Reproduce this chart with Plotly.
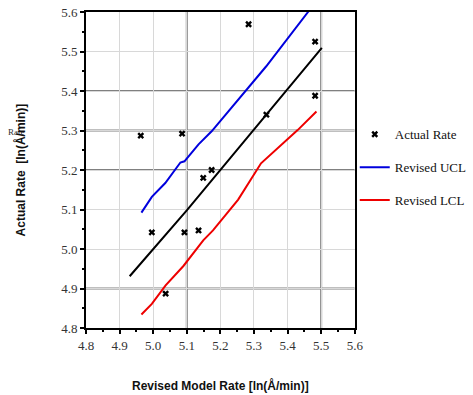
import plotly.graph_objects as go

# Actual Rate scatter (Revised Model Rate vs Actual Rate)
actual_x = [4.963, 4.996, 5.037, 5.086, 5.093, 5.135, 5.149, 5.174, 5.284, 5.337, 5.482, 5.482]
actual_y = [5.287, 5.042, 4.887, 5.292, 5.042, 5.047, 5.180, 5.200, 5.569, 5.340, 5.525, 5.388]

# Center (fit) line
center_x = [4.930, 5.100, 5.502]
center_y = [4.931, 5.098, 5.509]

# Revised UCL
ucl_x = [4.965, 4.996, 5.036, 5.081, 5.093, 5.135, 5.174, 5.253, 5.282, 5.336, 5.461, 5.490]
ucl_y = [5.092, 5.132, 5.167, 5.219, 5.222, 5.265, 5.298, 5.377, 5.407, 5.462, 5.600, 5.635]

# Revised LCL
lcl_x = [4.965, 4.996, 5.037, 5.090, 5.149, 5.178, 5.253, 5.321, 5.430, 5.486]
lcl_y = [4.834, 4.861, 4.908, 4.957, 5.022, 5.047, 5.125, 5.217, 5.301, 5.348]

tick_vals = [4.8, 4.9, 5.0, 5.1, 5.2, 5.3, 5.4, 5.5, 5.6]
tick_text = ["4.8", "4.9", "5.0", "5.1", "5.2", "5.3", "5.4", "5.5", "5.6"]
dark_x_grid = [5.1, 5.5]
dark_y_grid = [4.9, 5.2, 5.3, 5.4]

fig = go.Figure()
fig.add_trace(go.Scatter(x=center_x, y=center_y, mode="lines",
                         line=dict(color="black", width=2), showlegend=False))
fig.add_trace(go.Scatter(x=ucl_x, y=ucl_y, mode="lines", name="Revised UCL",
                         legendgroup="b", legendrank=2,
                         line=dict(color="#0000dd", width=2)))
fig.add_trace(go.Scatter(x=lcl_x, y=lcl_y, mode="lines", name="Revised LCL",
                         legendgroup="c", legendrank=3,
                         line=dict(color="#ee0000", width=2)))
fig.add_trace(go.Scatter(x=actual_x, y=actual_y, mode="markers", name="Actual Rate",
                         legendgroup="a", legendrank=1,
                         marker=dict(symbol="x", size=6, color="black",
                                     line=dict(width=0))))

shapes = []
for gx in dark_x_grid:
    shapes.append(dict(type="line", xref="x", yref="y", x0=gx, x1=gx, y0=4.8, y1=5.6,
                       line=dict(color="#808080", width=2), layer="below"))
for gy in dark_y_grid:
    shapes.append(dict(type="line", xref="x", yref="y", x0=4.8, x1=5.6, y0=gy, y1=gy,
                       line=dict(color="#808080", width=2), layer="below"))

serif = "Liberation Serif, Times New Roman, serif"
sans = "Liberation Sans, Arial, sans-serif"
axis_common = dict(
    range=[4.8, 5.6], tickvals=tick_vals, ticktext=tick_text,
    showgrid=True, gridcolor="#d8d8d8", gridwidth=1,
    showline=True, linecolor="black", linewidth=2, mirror=True,
    ticks="outside", ticklen=4, tickwidth=2, tickcolor="black",
    minor=dict(ticks="outside", ticklen=2, tickwidth=2, tickcolor="black",
               dtick=0.05, showgrid=False),
    tickfont=dict(family=serif, size=13, color="#333333"),
    zeroline=False, automargin=False,
)

fig.update_layout(
    width=473, height=395,
    margin=dict(l=86, r=116, t=12, b=67),
    paper_bgcolor="white", plot_bgcolor="white",
    shapes=shapes,
    xaxis=axis_common,
    yaxis=axis_common,
    legend=dict(xref="container", yref="container", x=0.75, y=0.698,
                xanchor="left", yanchor="top",
                font=dict(family=serif, size=13, color="#111"),
                itemwidth=30, tracegroupgap=13, bgcolor="rgba(0,0,0,0)"),
    annotations=[
        dict(text="Rate", xref="paper", yref="paper", x=-0.258, y=0.62,
             showarrow=False, xanchor="center",
             font=dict(family=serif, size=9, color="#333")),
        dict(text="<b>Revised Model Rate [ln(Å/min)]</b>", xref="paper", yref="paper",
             x=0.5, y=-0.182, xanchor="center", yanchor="middle", showarrow=False,
             font=dict(family=sans, size=12, color="#111")),
        dict(text="<b>Actual Rate  [ln(Å/min)]</b>", xref="paper", yref="paper",
             x=-0.244, y=0.5, xanchor="center", yanchor="middle", showarrow=False,
             textangle=-90, font=dict(family=sans, size=12, color="#111")),
    ],
)

fig.write_html("out.html")
